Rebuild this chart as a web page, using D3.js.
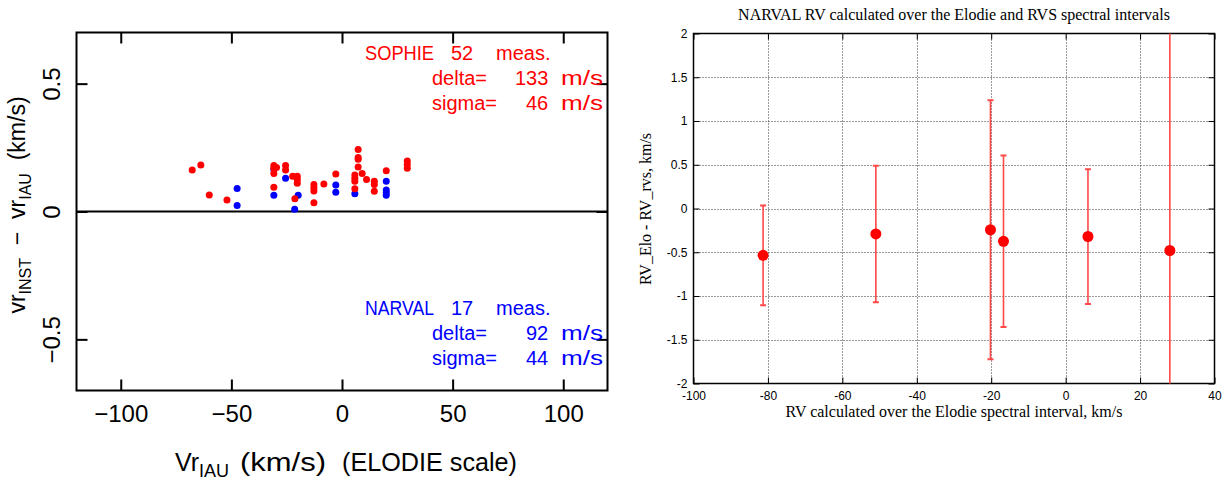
<!DOCTYPE html>
<html>
<head>
<meta charset="utf-8">
<script src="https://cdn.jsdelivr.net/npm/d3@7"></script>
<style>
	body { margin: 0; background: #fff; }
	svg { display: block; }
	.sans { font-family: "Liberation Sans", Arial, Helvetica, sans-serif; }
	.serif { font-family: "Liberation Serif", "Times New Roman", serif; }
</style>
</head>
<body>
<div id="chart"></div>
<script>
// ---- left panel: instrument offsets vs IAU velocity ----
var sophieX = [-67.7, -63.8, -60.0, -52.0, -30.8, -30.8, -30.8, -30.8, -29.6, -25.5, -25.5,
	-22.3, -20.2, -20.2, -20.2, -21.3, -12.7, -12.7, -12.7, -12.7, -8.2, -2.8,
	5.8, 5.8, 5.8, 5.8, 7.3, 7.3, 7.3, 7.3, 9.1, 11.1, 14.6, 14.6, 14.6, 20.0, 29.5, 29.5, 29.5];
var sophieY = [0.162, 0.182, 0.065, 0.045, 0.180, 0.169, 0.149, 0.095, 0.172, 0.180, 0.162,
	0.138, 0.138, 0.125, 0.110, 0.050, 0.106, 0.093, 0.080, 0.034, 0.108, 0.147,
	0.143, 0.130, 0.118, 0.089, 0.242, 0.211, 0.204, 0.174, 0.149, 0.125, 0.118, 0.106, 0.079, 0.159, 0.197, 0.184, 0.169];
var narvalX = [-47.4, -47.4, -30.8, -30.8, -25.5, -19.8, -21.4, -2.8, -2.8, 5.8, 20.0, 20.0, 20.0, 20.0];
var narvalY = [0.090, 0.023, 0.164, 0.064, 0.130, 0.064, 0.009, 0.104, 0.075, 0.069, 0.118, 0.084, 0.073, 0.064];
var sophieStats = ["SOPHIE", 52, 133, 46];   // name, measurements, delta m/s, sigma m/s
var narvalStats = ["NARVAL", 17, 92, 44];
var leftXTicks = [-100, -50, 0, 50, 100];
var leftYTicks = [-0.5, 0, 0.5];

// ---- right panel: NARVAL RV differences ----
var elodieRV = [-81.3, -51.0, -20.2, -16.7, 6.0, 28.0];
var rvDiff = [-0.535, -0.29, -0.243, -0.375, -0.32, -0.48];
var rvErr = [0.57, 0.78, 1.48, 0.98, 0.77, 2.6];
var rightXTicks = [-100, -80, -60, -40, -20, 0, 20, 40];
var rightYTicks = [-2, -1.5, -1, -0.5, 0, 0.5, 1, 1.5, 2];

var svg = d3.select("#chart").append("svg")
	.attr("width", 1225)
	.attr("height", 480);

function pgMinus(d) { return d < 0 ? "\u2212" + Math.abs(d) : String(d); }

// ================= left panel =================
var L = {x0: 76.5, x1: 607.5, y0: 32.5, y1: 390.5};
var xL = d3.scaleLinear().domain([-120, 120]).range([L.x0, L.x1]);
var yL = d3.scaleLinear().domain([-0.7, 0.7]).range([L.y1, L.y0]);

var left = svg.append("g").attr("class", "sans");

left.append("g")
	.attr("transform", "translate(0," + L.y1 + ")")
	.call(d3.axisBottom(xL).tickValues(leftXTicks).tickSize(-11).tickPadding(14).tickFormat(pgMinus))
	.call(function(g) {
		g.select(".domain").remove();
		g.selectAll("line").attr("stroke-width", 2);
		g.selectAll("text").attr("font-size", 24).attr("font-family", null).attr("fill", "#000");
	});
left.append("g")
	.attr("transform", "translate(0," + L.y0 + ")")
	.call(d3.axisTop(xL).tickValues(leftXTicks).tickSize(-11).tickFormat(""))
	.call(function(g) {
		g.select(".domain").remove();
		g.selectAll("line").attr("stroke-width", 2);
	});
left.append("g")
	.attr("transform", "translate(" + L.x0 + ",0)")
	.call(d3.axisLeft(yL).tickValues(leftYTicks).tickSize(-11).tickFormat(pgMinus))
	.call(function(g) {
		g.select(".domain").remove();
		g.selectAll("line").attr("stroke-width", 2);
		g.selectAll("text")
			.attr("font-size", 24).attr("font-family", null).attr("fill", "#000")
			.attr("transform", "rotate(-90)")
			.attr("x", 0).attr("y", -17).attr("dy", null)
			.attr("text-anchor", "middle");
	});
left.append("g")
	.attr("transform", "translate(" + L.x1 + ",0)")
	.call(d3.axisRight(yL).tickValues(leftYTicks).tickSize(-11).tickFormat(""))
	.call(function(g) {
		g.select(".domain").remove();
		g.selectAll("line").attr("stroke-width", 2);
	});

left.append("rect")
	.attr("x", L.x0).attr("y", L.y0)
	.attr("width", L.x1 - L.x0).attr("height", L.y1 - L.y0)
	.attr("fill", "none").attr("stroke", "#000").attr("stroke-width", 2);

left.append("line")
	.attr("x1", L.x0).attr("x2", L.x1)
	.attr("y1", yL(0)).attr("y2", yL(0))
	.attr("stroke", "#000").attr("stroke-width", 2);

left.append("g").selectAll("circle")
	.data(d3.range(narvalX.length))
	.enter().append("circle")
	.attr("cx", function(i) { return xL(narvalX[i]); })
	.attr("cy", function(i) { return yL(narvalY[i]); })
	.attr("r", 3.5)
	.attr("fill", "#0000ff");
left.append("g").selectAll("circle")
	.data(d3.range(sophieX.length))
	.enter().append("circle")
	.attr("cx", function(i) { return xL(sophieX[i]); })
	.attr("cy", function(i) { return yL(sophieY[i]); })
	.attr("r", 3.5)
	.attr("fill", "#ff0000");

// statistics blocks
function statBlock(stats, top, color) {
	var g = left.append("g").attr("fill", color).attr("font-size", 20);
	var rows = [
		[[stats[0], 365], [String(stats[1]), 451], ["meas.", 496]],
		[["delta=", 432], [String(stats[2]), 526 - (String(stats[2]).length - 2) * 11], ["m/s", 561]],
		[["sigma=", 432], [String(stats[3]), 526 - (String(stats[3]).length - 2) * 11], ["m/s", 561]]
	];
	rows.forEach(function(row, r) {
		row.forEach(function(tok, k) {
			var t = g.append("text")
				.attr("x", tok[1])
				.attr("y", top + r * 25)
				.text(tok[0]);
			if (r == 0 && k == 0) t.attr("textLength", 69).attr("lengthAdjust", "spacingAndGlyphs");
			if (tok[0] == "m/s") t.attr("textLength", 42).attr("lengthAdjust", "spacingAndGlyphs");
		});
	});
}
statBlock(sophieStats, 59.5, "#ff0000");
statBlock(narvalStats, 315, "#0000ff");

// axis titles
var yt = left.append("text")
	.attr("transform", "translate(25," + 205 + ") rotate(-90)")
	.attr("text-anchor", "middle")
	.attr("font-size", 23)
	.attr("xml:space", "preserve");
yt.append("tspan").text("vr");
yt.append("tspan").attr("dy", 6).attr("font-size", 16).text("INST");
yt.append("tspan").attr("dy", -6).text("  \u2212  vr");
yt.append("tspan").attr("dy", 6).attr("font-size", 16).text("IAU");
yt.append("tspan").attr("dy", -6).text("  (km/s)");

var xt = left.append("text")
	.attr("y", 471)
	.attr("font-size", 25);
xt.append("tspan").attr("x", 175).text("Vr");
xt.append("tspan").attr("dy", 6).attr("font-size", 18).text("IAU");
xt.append("tspan").attr("x", 240).attr("dy", -6).attr("textLength", 86).attr("lengthAdjust", "spacingAndGlyphs").text("(km/s)");
xt.append("tspan").attr("x", 342).attr("textLength", 175).attr("lengthAdjust", "spacingAndGlyphs").text("(ELODIE scale)");

// ================= right panel =================
var R = {x0: 693.5, x1: 1214.5, y0: 33.5, y1: 383.5};
var xR = d3.scaleLinear().domain([-100, 40]).range([R.x0, R.x1]);
var yR = d3.scaleLinear().domain([-2, 2]).range([R.y1, R.y0]);

var right = svg.append("g").attr("class", "sans");

svg.append("defs").append("clipPath").attr("id", "clipR")
	.append("rect")
	.attr("x", R.x0).attr("y", R.y0)
	.attr("width", R.x1 - R.x0).attr("height", R.y1 - R.y0);

// dotted grid
right.append("g").selectAll("line")
	.data(rightXTicks.slice(1, -1))
	.enter().append("line")
	.attr("x1", function(d) { return Math.round(xR(d)) + 0.5; })
	.attr("x2", function(d) { return Math.round(xR(d)) + 0.5; })
	.attr("y1", R.y0).attr("y2", R.y1)
	.attr("stroke", "#333").attr("stroke-dasharray", "1,2");
right.append("g").selectAll("line")
	.data(rightYTicks.slice(1, -1))
	.enter().append("line")
	.attr("y1", function(d) { return Math.round(yR(d)) + 0.5; })
	.attr("y2", function(d) { return Math.round(yR(d)) + 0.5; })
	.attr("x1", R.x0).attr("x2", R.x1)
	.attr("stroke", "#333").attr("stroke-dasharray", "1,2");

function plainTicks(d) { return String(d); }

right.append("g")
	.attr("transform", "translate(0," + R.y1 + ")")
	.call(d3.axisBottom(xR).tickValues(rightXTicks).tickSize(-6).tickPadding(8).tickFormat(plainTicks))
	.call(function(g) {
		g.select(".domain").remove();
		g.selectAll("text").attr("font-size", 12).attr("font-family", null).attr("fill", "#000");
	});
right.append("g")
	.attr("transform", "translate(0," + R.y0 + ")")
	.call(d3.axisTop(xR).tickValues(rightXTicks).tickSize(-6).tickFormat(""))
	.call(function(g) { g.select(".domain").remove(); });
right.append("g")
	.attr("transform", "translate(" + R.x0 + ",0)")
	.call(d3.axisLeft(yR).tickValues(rightYTicks).tickSize(-6).tickPadding(6).tickFormat(plainTicks))
	.call(function(g) {
		g.select(".domain").remove();
		g.selectAll("text").attr("font-size", 12).attr("font-family", null).attr("fill", "#000");
	});
right.append("g")
	.attr("transform", "translate(" + R.x1 + ",0)")
	.call(d3.axisRight(yR).tickValues(rightYTicks).tickSize(-6).tickFormat(""))
	.call(function(g) { g.select(".domain").remove(); });

right.append("rect")
	.attr("x", R.x0).attr("y", R.y0)
	.attr("width", R.x1 - R.x0).attr("height", R.y1 - R.y0)
	.attr("fill", "none").attr("stroke", "#000").attr("stroke-width", 1.5);

// error bars
var bars = right.append("g")
	.attr("clip-path", "url(#clipR)")
	.attr("stroke", "#ff4848")
	.attr("stroke-width", 1.6);
d3.range(elodieRV.length).forEach(function(i) {
	var x = xR(elodieRV[i]);
	var top = yR(rvDiff[i] + rvErr[i]);
	var bot = yR(rvDiff[i] - rvErr[i]);
	bars.append("line").attr("x1", x).attr("x2", x).attr("y1", top).attr("y2", bot);
	bars.append("line").attr("x1", x - 3).attr("x2", x + 3).attr("y1", top).attr("y2", top).attr("stroke-width", 2);
	bars.append("line").attr("x1", x - 3).attr("x2", x + 3).attr("y1", bot).attr("y2", bot).attr("stroke-width", 2);
});

right.append("g").selectAll("circle")
	.data(d3.range(elodieRV.length))
	.enter().append("circle")
	.attr("cx", function(i) { return xR(elodieRV[i]); })
	.attr("cy", function(i) { return yR(rvDiff[i]); })
	.attr("r", 5.5)
	.attr("fill", "#ff0000");

// titles (serif)
var titles = svg.append("g").attr("class", "serif").attr("font-size", 16).attr("fill", "#000");
titles.append("text")
	.attr("x", 954).attr("y", 20)
	.attr("text-anchor", "middle")
	.text("NARVAL RV calculated over the Elodie and RVS spectral intervals");
titles.append("text")
	.attr("x", 954).attr("y", 417)
	.attr("text-anchor", "middle")
	.text("RV calculated over the Elodie spectral interval, km/s");
titles.append("text")
	.attr("transform", "translate(651,209) rotate(-90)")
	.attr("text-anchor", "middle")
	.text("RV_Elo - RV_rvs, km/s");
</script>
</body>
</html>
